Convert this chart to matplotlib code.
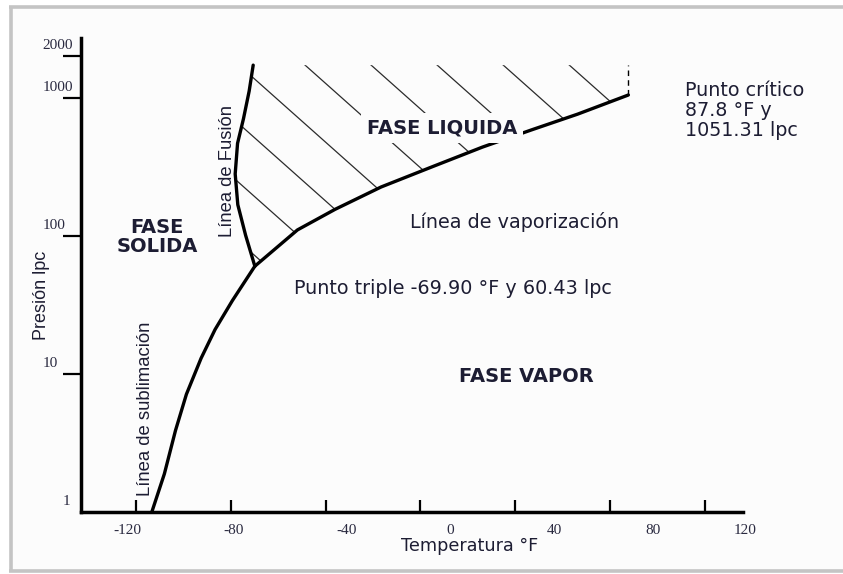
import numpy as np
import matplotlib
matplotlib.use("Agg")
import matplotlib.pyplot as plt
import matplotlib.transforms as mtransforms
from matplotlib.patches import Polygon, Rectangle
from matplotlib.lines import Line2D
from matplotlib.ticker import NullLocator

# ---- phase-boundary data: temperature (°F) and pressure (lpc) ----
triple_point = (-69.90, 60.43)
critical_point = (87.8, 1051.31)

sublimation_temp = [-113.4, -108.1, -103.4, -98.8, -92.6, -86.7, -79.4]
sublimation_pres = [1.0, 1.89, 3.90, 7.13, 13.0, 21.0, 34.0]

fusion_temp = [-73.8, -77.1, -78.2, -77.2, -74.7, -72.3, -70.6]
fusion_pres = [101.2, 168.6, 281.8, 469.5, 708.0, 1122.0, 1730.0]

vaporization_temp = [-51.9, -36.0, -16.6, 5.5, 26.2, 47.0, 66.4]
vaporization_pres = [110.7, 156.1, 226.5, 320.0, 440.8, 588.0, 764.0]

liquid_top_pres = 1730.0

x_ticks = [-120, -80, -40, 0, 40, 80, 120]
x_tick_labels = ["-120", "-80", "-40", "0", "40", "80", "120"]
y_ticks = [1, 10, 100, 1000, 2000]
y_tick_labels = ["1", "10", "100", "1000", "2000"]

# full curves, each joined at the triple / critical point
sub_T = sublimation_temp + [triple_point[0]]
sub_P = sublimation_pres + [triple_point[1]]
fus_T = [triple_point[0]] + fusion_temp
fus_P = [triple_point[1]] + fusion_pres
vap_T = [triple_point[0]] + vaporization_temp + [critical_point[0]]
vap_P = [triple_point[1]] + vaporization_pres + [critical_point[1]]

# ---- figure ----
W, H, DPI = 843, 574, 100
fig = plt.figure(figsize=(W / DPI, H / DPI), dpi=DPI, facecolor="white")


def fx(px):
    return px / W


def fy(py):
    return 1 - py / H


TEXT_COLOR = "#1d1d33"
SANS_WIDE = ["DejaVu Sans"]
SANS = ["Liberation Sans", "DejaVu Sans"]
SERIF = ["Liberation Serif", "DejaVu Serif"]

# page frame
fig.add_artist(Rectangle((fx(11), fy(570)), 1.0, fy(8) - fy(570),
                         transform=fig.transFigure, facecolor="#fcfcfc",
                         edgecolor="none", zorder=0))
frame_color = "#c4c4c4"
for x0, y0, x1, y1 in [(9, 7, 843, 7), (10.5, 6, 10.5, 572), (9, 571, 843, 571)]:
    fig.add_artist(Line2D([fx(x0), fx(x1)], [fy(y0), fy(y1)],
                          transform=fig.transFigure, color=frame_color,
                          lw=2.6, solid_capstyle="butt", zorder=0.5))

ax = fig.add_axes([fx(81), fy(512), (743 - 81) / W, (512 - 38) / H])
ax.patch.set_visible(False)
ax.set_yscale("log")
ax.set_xlim(-143.3, 136.2)
ax.set_ylim(1, 2721)

for side in ("top", "right"):
    ax.spines[side].set_visible(False)
for side in ("left", "bottom"):
    ax.spines[side].set_linewidth(2.5)
    ax.spines[side].set_color("black")
    ax.spines[side].set_zorder(5)

# ---- ticks ----
ax.set_xticks(x_ticks, labels=x_tick_labels)
ax.set_yticks(y_ticks, labels=y_tick_labels)
ax.xaxis.set_minor_locator(NullLocator())
ax.yaxis.set_minor_locator(NullLocator())
ax.tick_params(axis="x", direction="in", length=8.5, width=1.6, pad=9,
               labelsize=11, labelcolor="#2a2a40")
ax.tick_params(axis="y", direction="out", length=13, width=1.6,
               labelsize=11, labelcolor="#2a2a40")
ax.yaxis.get_major_ticks()[0].tick1line.set_visible(False)

x_label_shift_px = [-9, 3, 21, 30, 39, 43, 40]
for lab, dx in zip(ax.get_xticklabels(), x_label_shift_px):
    lab.set_fontfamily(SERIF)
    lab.set_transform(lab.get_transform()
                      + mtransforms.ScaledTranslation(dx / DPI, 0, fig.dpi_scale_trans))

y_label_left_px = [63, 43, 43, 43, 42]
ylab_base = mtransforms.blended_transform_factory(ax.transAxes, ax.transData)
for lab, left in zip(ax.get_yticklabels(), y_label_left_px):
    lab.set_fontfamily(SERIF)
    lab.set_horizontalalignment("left")
    lab.set_transform(ylab_base + mtransforms.ScaledTranslation(
        (left - 81) / DPI, 12 / DPI, fig.dpi_scale_trans))

# ---- liquid region hatching ----
region_T = fus_T + [critical_point[0]] + vap_T[::-1]
region_P = fus_P[:-1] + [liquid_top_pres, liquid_top_pres] + vap_P[::-1]
region = Polygon(np.column_stack([region_T, region_P]), closed=True,
                 transform=ax.transData, facecolor="none", edgecolor="none")
ax.add_patch(region)

hatch_slope, hatch_step, hatch_start = 0.89, 58.8, -30.0
xs = np.array([0.0, W])
for c in hatch_start + hatch_step * np.arange(-12, 4):
    ys = hatch_slope * xs + c
    hl = Line2D(xs / DPI, (H - ys) / DPI, transform=fig.dpi_scale_trans,
                color="#2b2b2b", lw=0.9, zorder=1.5)
    ax.add_artist(hl)
    hl.set_clip_path(region)

# dashed critical isotherm above the critical point
ax.plot([critical_point[0], critical_point[0]], [critical_point[1], liquid_top_pres],
        color="black", lw=1.0, linestyle=(0, (4, 3)), zorder=2)

# ---- phase boundaries ----
curve_kw = dict(color="black", lw=2.4, solid_joinstyle="round",
                solid_capstyle="round", zorder=3)
ax.plot(sub_T, sub_P, **curve_kw)
ax.plot(fus_T, fus_P, **curve_kw)
ax.plot(vap_T, vap_P, **curve_kw)

# ---- axis titles ----
ax.set_xlabel("Temperatura °F", fontsize=12.7, family=SANS_WIDE, color=TEXT_COLOR)
ax.xaxis.label.set_va("center")
ax.xaxis.set_label_coords((470 - 81) / 662, (512 - 546) / 474)
ax.set_ylabel("Presión lpc", fontsize=13, family=SANS, color=TEXT_COLOR)
ax.yaxis.label.set_va("center")
ax.yaxis.set_label_coords((42 - 81) / 662, (512 - 295) / 474)

# ---- annotations ----
fig.text(fx(442), fy(128), "FASE LIQUIDA", ha="center", va="center",
         fontsize=14, fontweight="bold", family=SANS_WIDE, color=TEXT_COLOR,
         zorder=4, bbox=dict(boxstyle="square,pad=0.3", facecolor="#fcfcfc",
                             edgecolor="none"))
fig.text(fx(157), fy(237), "FASE\nSOLIDA", ha="center", va="center",
         multialignment="center", linespacing=1.03, fontsize=14,
         fontweight="bold", family=SANS_WIDE, color=TEXT_COLOR)
fig.text(fx(526), fy(377), "FASE VAPOR", ha="center", va="center",
         fontsize=14, fontweight="bold", family=SANS_WIDE, color=TEXT_COLOR)
fig.text(fx(515), fy(222), "Línea de vaporización", ha="center", va="center",
         fontsize=13.8, family=SANS_WIDE, color=TEXT_COLOR)
fig.text(fx(453), fy(288), "Punto triple -69.90 °F y 60.43 lpc",
         ha="center", va="center", fontsize=13.8, family=SANS_WIDE,
         color=TEXT_COLOR)
fig.text(fx(685), fy(110.5), "Punto crítico\n87.8 °F y\n1051.31 lpc",
         ha="left", va="center", linespacing=1.07, fontsize=13.8,
         family=SANS_WIDE, color=TEXT_COLOR)
fig.text(fx(227), fy(171), "Línea de Fusión", rotation=90, ha="center",
         va="center", fontsize=13.2, family=SANS, color=TEXT_COLOR, zorder=2)
fig.text(fx(145), fy(409), "Línea de sublimación", rotation=90, ha="center",
         va="center", fontsize=13.3, family=SANS, color=TEXT_COLOR)

fig.savefig("out.png", dpi=DPI, facecolor="white")
